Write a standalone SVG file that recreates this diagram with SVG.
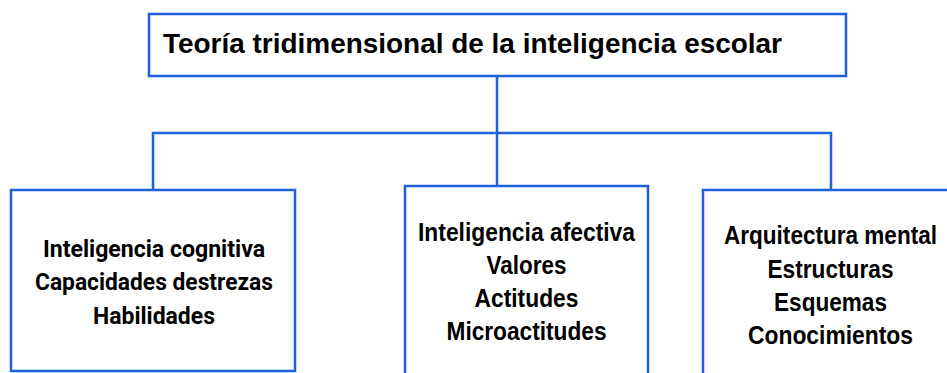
<svg xmlns="http://www.w3.org/2000/svg" width="947" height="373" viewBox="0 0 947 373">
<style>
.box{fill:#fff;stroke:#1f62d8;stroke-width:2.5}
.ln{fill:none;stroke:#1f62d8;stroke-width:2.5}
.t{font-family:"Liberation Sans",Arial,sans-serif;font-weight:bold;fill:#000;text-anchor:middle;font-size:25px}
.r{font-family:Roboto,"Liberation Sans",sans-serif;font-weight:bold;fill:#000;text-anchor:middle;font-size:24px}
</style>
<rect width="947" height="373" fill="#fff"/>
<g id="connectors">
<path class="ln" d="M497 76V186M153 190V133H831V190"/>
</g>
<g id="root">
<rect class="box" x="149" y="14" width="697" height="62"/>
<text x="163" y="53" font-size="28" font-family="Liberation Sans,Arial,sans-serif" font-weight="bold" textLength="619" lengthAdjust="spacingAndGlyphs">Teoría tridimensional de la inteligencia escolar</text>
</g>
<g id="cognitiva">
<rect class="box" x="11" y="190" width="284" height="181"/>
<text class="r" x="154" y="257" textLength="222" lengthAdjust="spacingAndGlyphs">Inteligencia cognitiva</text>
<text class="r" x="154" y="290" textLength="238" lengthAdjust="spacingAndGlyphs">Capacidades destrezas</text>
<text class="r" x="154" y="324" textLength="122" lengthAdjust="spacingAndGlyphs">Habilidades</text>
</g>
<g id="afectiva">
<rect class="box" x="405" y="186" width="243" height="200"/>
<text class="t" x="526.5" y="241" textLength="217" lengthAdjust="spacingAndGlyphs">Inteligencia afectiva</text>
<text class="t" x="526.5" y="274" textLength="80" lengthAdjust="spacingAndGlyphs">Valores</text>
<text class="t" x="526.5" y="307" textLength="104" lengthAdjust="spacingAndGlyphs">Actitudes</text>
<text class="t" x="526.5" y="340" textLength="160" lengthAdjust="spacingAndGlyphs">Microactitudes</text>
</g>
<g id="arquitectura">
<rect class="box" x="703" y="190" width="246" height="200"/>
<text class="t" x="830.5" y="244" textLength="213" lengthAdjust="spacingAndGlyphs">Arquitectura mental</text>
<text class="t" x="830.5" y="278" textLength="126" lengthAdjust="spacingAndGlyphs">Estructuras</text>
<text class="t" x="830.5" y="311" textLength="113" lengthAdjust="spacingAndGlyphs">Esquemas</text>
<text class="t" x="830.5" y="344" textLength="165" lengthAdjust="spacingAndGlyphs">Conocimientos</text>
</g>
</svg>
